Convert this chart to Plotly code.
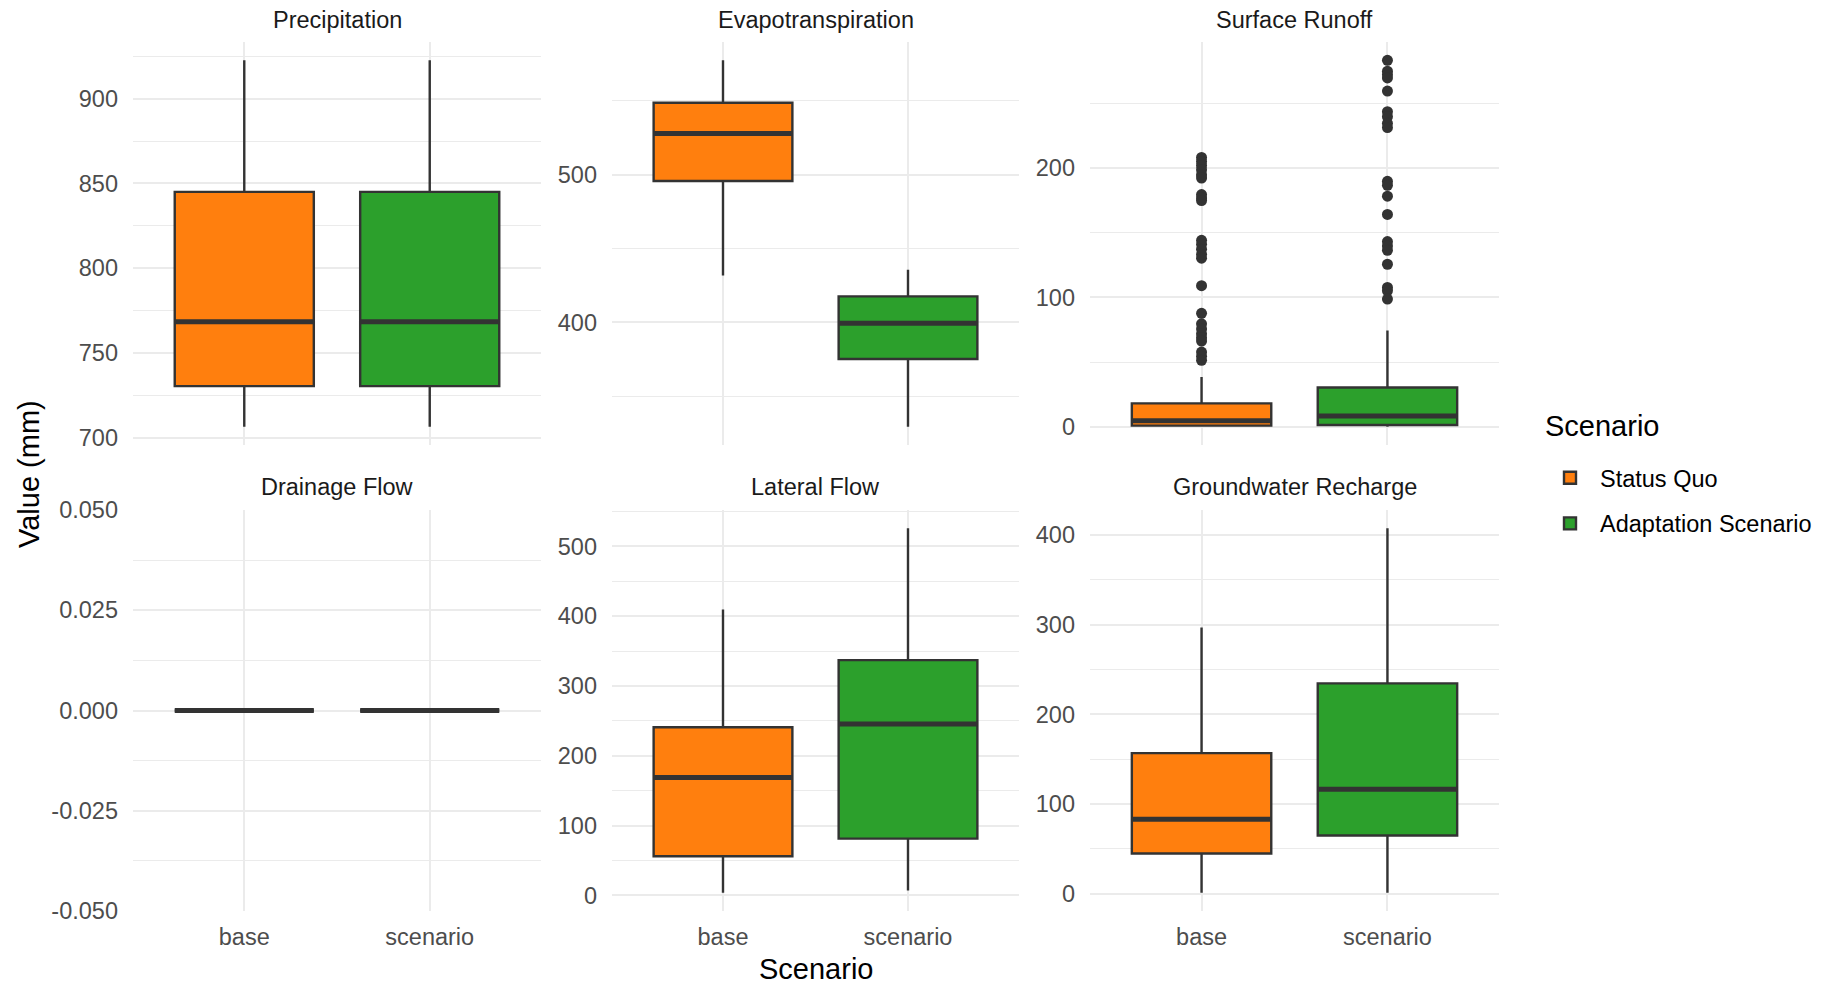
import plotly.graph_objects as go

# ---- data: per-variable box statistics (mm) ----
variables = ["Precipitation", "Evapotranspiration", "Surface Runoff",
             "Drainage Flow", "Lateral Flow", "Groundwater Recharge"]
scenarios = ["base", "scenario"]
legend_names = ["Status Quo", "Adaptation Scenario"]
fill_colors = ["#FF7F0E", "#2CA02C"]

lower_base = [706.5, 431.8, 0.0, 0.0, 3.8, 1.0]
q1_base = [730.4, 495.7, 0.8, 0.0, 56.2, 44.8]
median_base = [768.4, 527.9, 4.6, 0.0, 169.0, 83.0]
q3_base = [845.0, 548.8, 18.0, 0.0, 241.0, 156.7]
upper_base = [922.6, 577.5, 38.5, 0.0, 409.5, 296.7]

lower_scen = [706.5, 329.3, 0.0, 0.0, 7.1, 1.0]
q1_scen = [730.4, 375.2, 1.3, 0.0, 81.4, 64.8]
median_scen = [768.4, 399.3, 8.2, 0.0, 245.7, 116.3]
q3_scen = [845.0, 417.6, 30.3, 0.0, 337.0, 234.4]
upper_scen = [922.6, 435.6, 74.4, 0.0, 526.0, 407.4]

# outlying years of surface runoff
runoff_outliers_base = [208.2, 205.1, 202.0, 198.7, 194.9, 192.3, 179.5, 176.9,
                        174.9, 144.1, 141.0, 137.2, 133.3, 130.3, 109.0, 87.7,
                        79.5, 75.6, 71.8, 68.7, 66.2, 57.7, 54.4, 51.3]
runoff_outliers_scen = [283.3, 274.9, 272.3, 269.7, 259.5, 243.6, 239.7, 234.6,
                        231.3, 189.7, 186.7, 178.2, 164.1, 143.1, 139.7, 136.4,
                        125.6, 107.7, 105.1, 98.7]

major_steps = [50, 100, 100, 0.025, 100, 100]
drain_tickvals = [-0.05, -0.025, 0.0, 0.025, 0.05]
drain_ticktext = ["-0.050", "-0.025", "0.000", "0.025", "0.050"]

# ---- layout geometry (pixels) ----
W, H = 1833, 986
col_px = [(133, 541), (612, 1019), (1090, 1499)]
row_px = [(42, 445), (510, 911)]
strip_y = [20, 487]
FONT = "Liberation Sans, Arial, sans-serif"
GRID = "#EBEBEB"
EDGE = "#333333"
BOX_W = 0.75

stats = [
    [lower_base, q1_base, median_base, q3_base, upper_base],
    [lower_scen, q1_scen, median_scen, q3_scen, upper_scen],
]
outliers = {2: [runoff_outliers_base, runoff_outliers_scen]}

fig = go.Figure()
layout = {}
annotations = []

for i, var in enumerate(variables):
    k = "" if i == 0 else str(i + 1)
    xa, ya = "x" + k, "y" + k
    r, c = divmod(i, 3)
    x0, x1 = col_px[c]
    y0, y1 = row_px[r]

    values = []
    for j in range(2):
        lo, q1, med, q3, hi = (s[i] for s in stats[j])
        fig.add_trace(go.Box(
            x=[j], q1=[q1], median=[med], q3=[q3],
            lowerfence=[lo], upperfence=[hi],
            orientation="v", width=BOX_W, whiskerwidth=0,
            fillcolor=fill_colors[j], line=dict(color=EDGE, width=2.4),
            boxpoints=False, name=legend_names[j],
            legendgroup=scenarios[j], showlegend=(i == 0),
            hoverinfo="skip", xaxis=xa, yaxis=ya,
        ))
        # heavier median bar
        fig.add_trace(go.Scatter(
            x=[j - BOX_W / 2, j + BOX_W / 2], y=[med, med], mode="lines",
            line=dict(color=EDGE, width=5), showlegend=False,
            hoverinfo="skip", xaxis=xa, yaxis=ya,
        ))
        values += [lo, hi]
        if i in outliers:
            pts = outliers[i][j]
            fig.add_trace(go.Scatter(
                x=[j] * len(pts), y=pts, mode="markers",
                marker=dict(color=EDGE, size=11), showlegend=False,
                hoverinfo="skip", xaxis=xa, yaxis=ya,
            ))
            values += pts

    vmin, vmax = min(values), max(values)
    if vmax == vmin:
        yr = [vmin - 0.05, vmax + 0.05]
    else:
        pad = 0.05 * (vmax - vmin)
        yr = [vmin - pad, vmax + pad]

    step = major_steps[i]
    yaxis = dict(
        domain=[1 - y1 / H, 1 - y0 / H], anchor=xa, range=yr, automargin=False,
        dtick=step, tick0=0, showgrid=True, gridcolor=GRID, gridwidth=2,
        minor=dict(dtick=step / 2, tick0=0, showgrid=True, gridcolor=GRID, gridwidth=1.2),
        zeroline=False, showline=False, ticks="",
        tickfont=dict(family=FONT, size=23.5, color="#4D4D4D"),
        ticklabelstandoff=14,
    )
    if i == 3:
        yaxis.update(tickmode="array", tickvals=drain_tickvals, ticktext=drain_ticktext)
    xaxis = dict(
        domain=[x0 / W, x1 / W], anchor=ya, range=[-0.6, 1.6], automargin=False,
        tickmode="array", tickvals=[0, 1], ticktext=scenarios,
        showticklabels=(r == 1), showgrid=True, gridcolor=GRID, gridwidth=2,
        zeroline=False, showline=False, ticks="",
        tickfont=dict(family=FONT, size=23.5, color="#4D4D4D"),
        ticklabelstandoff=9,
    )
    layout["xaxis" + k] = xaxis
    layout["yaxis" + k] = yaxis

    annotations.append(dict(
        text=var, x=(x0 + x1) / 2 / W, y=1 - strip_y[r] / H,
        xref="paper", yref="paper", xanchor="center", yanchor="middle",
        showarrow=False, font=dict(family=FONT, size=23.5, color="#1A1A1A"),
    ))

annotations.append(dict(
    text="Value (mm)", x=29 / W, y=1 - 474 / H, textangle=-90,
    xref="paper", yref="paper", xanchor="center", yanchor="middle",
    showarrow=False, font=dict(family=FONT, size=29, color="black"),
))
annotations.append(dict(
    text="Scenario", x=(612 + 1019) / 2 / W, y=1 - 969 / H,
    xref="paper", yref="paper", xanchor="center", yanchor="middle",
    showarrow=False, font=dict(family=FONT, size=29, color="black"),
))
# legend heading
annotations.append(dict(
    text="Scenario", x=1543 / W, y=1 - 426 / H,
    xref="paper", yref="paper", xanchor="left", yanchor="middle",
    showarrow=False, font=dict(family=FONT, size=29, color="black"),
))

fig.update_layout(
    **layout,
    annotations=annotations,
    width=W, height=H,
    margin=dict(l=0, r=0, t=0, b=0),
    paper_bgcolor="white", plot_bgcolor="white",
    showlegend=True,
    legend=dict(
        font=dict(family=FONT, size=23.5, color="black"),
        x=1540 / W, y=1 - 456 / H, xanchor="left", yanchor="top",
        bgcolor="rgba(0,0,0,0)", itemwidth=50, tracegroupgap=12,
    ),
)

fig.write_html("out.html")
